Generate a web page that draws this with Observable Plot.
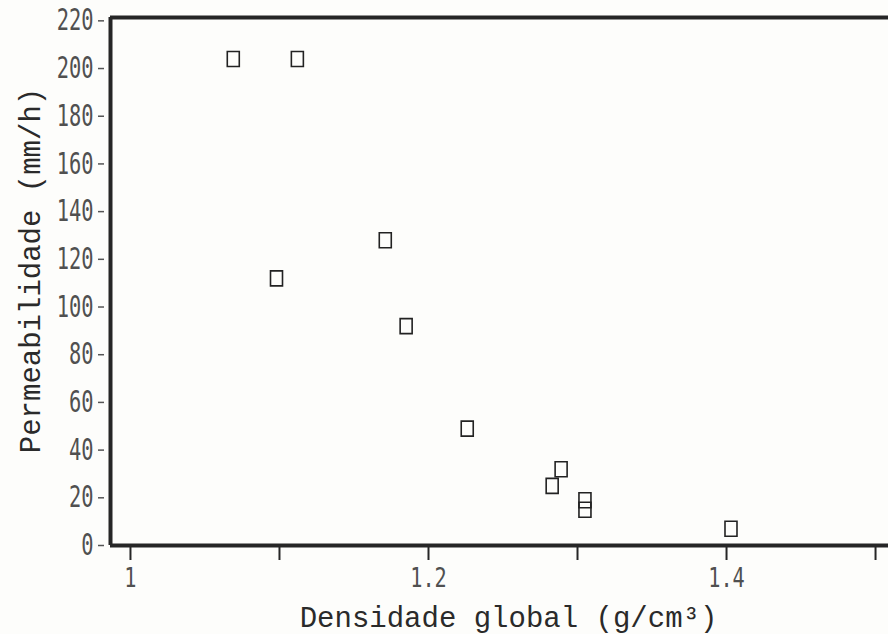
<!DOCTYPE html>
<html>
<head>
<meta charset="utf-8">
<script src="https://cdn.jsdelivr.net/npm/d3@7"></script>
<script src="https://cdn.jsdelivr.net/npm/@observablehq/plot@0.6"></script>
<style>
  html, body { margin: 0; padding: 0; background: #fdfdfb; }
  #chart svg { display: block; background: #fdfdfb; }
</style>
</head>
<body>
<div id="chart"></div>
<script>
// Data
const densidade = [1.069, 1.112, 1.171, 1.098, 1.185, 1.226, 1.289, 1.283, 1.305, 1.305, 1.403];
const permeabilidade = [204, 204, 128, 112, 92, 49, 32, 25, 19, 15, 7];

const yTicks = [0, 20, 40, 60, 80, 100, 120, 140, 160, 180, 200, 220];
const xTicks = [1, 1.1, 1.2, 1.3, 1.4, 1.5];
const xTickLabels = ["1", "", "1.2", "", "1.4", ""];

const xLabel = "Densidade global (g/cm³)";
const yLabel = "Permeabilidade (mm/h)";

const xDomain = [0.9866, 1.5087];
const yDomain = [0, 221.4];

const points = densidade.map((d, i) => ({x: d, y: permeabilidade[i]}));

const rectSymbol = {
  draw(context) {
    context.rect(-6, -7.5, 12, 15);
  }
};

const ink = "#262626";

const chart = Plot.plot({
  width: 888,
  height: 634,
  marginLeft: 110,
  marginRight: 0,
  marginTop: 17,
  marginBottom: 89,
  style: {background: "#fdfdfb"},
  x: {domain: xDomain},
  y: {domain: yDomain},
  marks: [
    Plot.axisY(yTicks, {
      anchor: "left",
      tickSize: 6,
      dx: -6,
      tickPadding: 5,
      strokeWidth: 1.5,
      stroke: "#555",
      fill: "#505050",
      fontSize: 30,
      fontFamily: "DejaVu Sans Mono",
      tickFormat: d => String(d),
      label: null
    }),
    Plot.axisX(xTicks, {
      anchor: "bottom",
      tickSize: 15,
      tickPadding: 7,
      strokeWidth: 2,
      stroke: ink,
      fill: "#505050",
      fontSize: 27,
      fontFamily: "DejaVu Sans Mono",
      tickFormat: (d) => xTickLabels[xTicks.indexOf(d)],
      label: null
    }),
    Plot.ruleY([yDomain[0]], {stroke: ink, strokeWidth: 4}),
    Plot.ruleY([yDomain[1]], {stroke: ink, strokeWidth: 4}),
    Plot.ruleX([xDomain[0]], {stroke: ink, strokeWidth: 4}),
    Plot.dot(points, {
      x: "x", y: "y",
      symbol: rectSymbol,
      r: 6,
      stroke: "#222",
      strokeWidth: 1.6,
      fill: "none"
    }),
    Plot.text([xLabel], {
      frameAnchor: "bottom",
      textAnchor: "middle",
      lineAnchor: "bottom",
      dx: 9,
      dy: 81,
      fontFamily: "Liberation Mono",
      fontSize: 29,
      fill: "#2a2a2a"
    }),
    Plot.text([yLabel], {
      frameAnchor: "left",
      textAnchor: "middle",
      lineAnchor: "bottom",
      rotate: -90,
      dx: -71,
      dy: -11,
      fontFamily: "Liberation Mono",
      fontSize: 29,
      fill: "#2a2a2a"
    })
  ]
});

document.getElementById("chart").appendChild(chart);

// Condense tick label glyphs horizontally to mimic the narrow plotter font
function condense(selector, sx) {
  chart.querySelectorAll(selector).forEach(t => {
    const tr = t.getAttribute("transform") || "";
    t.setAttribute("transform", tr + ` scale(${sx},1)`);
  });
}
condense('g[aria-label="y-axis tick label"] text', 0.68);
condense('g[aria-label="x-axis tick label"] text', 0.75);
</script>
</body>
</html>
